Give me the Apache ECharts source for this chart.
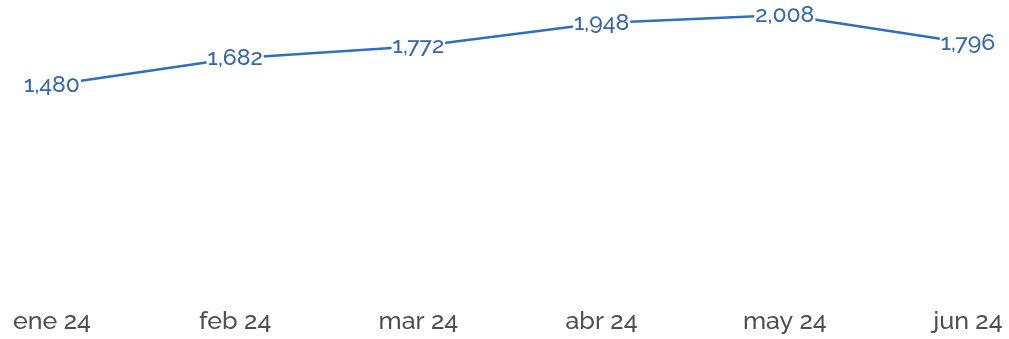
<!DOCTYPE html>
<html>
<head>
<meta charset="utf-8">
<script src="https://cdn.jsdelivr.net/npm/echarts@6/dist/echarts.min.js"></script>
<style>
html,body{margin:0;padding:0;background:#fff;}
#chart{width:1009px;height:339px;}
</style>
</head>
<body>
<div id="chart"></div>
<script>
const categories = ['ene 24', 'feb 24', 'mar 24', 'abr 24', 'may 24', 'jun 24'];
const values = [1480, 1682, 1772, 1948, 2008, 1796];

const chart = echarts.init(document.getElementById('chart'), null, {renderer: 'canvas'});
chart.setOption({
  animation: false,
  backgroundColor: '#ffffff',
  grid: {left: 52, right: 41, top: 15, bottom: 58, containLabel: false},
  xAxis: {
    type: 'category',
    data: categories,
    boundaryGap: false,
    axisLine: {show: false},
    axisTick: {show: false},
    splitLine: {show: false},
    axisLabel: {
      color: '#4f4f4f',
      fontFamily: 'Raleway, "Open Sans", sans-serif',
      fontWeight: 500,
      fontSize: 25,
      margin: 28
    }
  },
  yAxis: {
    type: 'value',
    min: 0,
    max: 'dataMax',
    show: false,
    splitLine: {show: false}
  },
  series: [{
    type: 'line',
    data: values,
    symbol: 'circle',
    symbolSize: 1,
    showSymbol: true,
    itemStyle: {color: 'rgba(0,0,0,0)'},
    lineStyle: {color: '#2f6fbf', width: 2.5},
    z: 2,
    label: {
      show: true,
      position: 'inside',
      color: '#3766a8',
      fontFamily: 'Raleway, "Open Sans", sans-serif',
      fontWeight: 500,
      fontSize: 23,
      backgroundColor: '#ffffff',
      padding: [0, 1],
      formatter: p => p.value.toLocaleString('en-US')
    }
  }]
});
</script>
</body>
</html>
